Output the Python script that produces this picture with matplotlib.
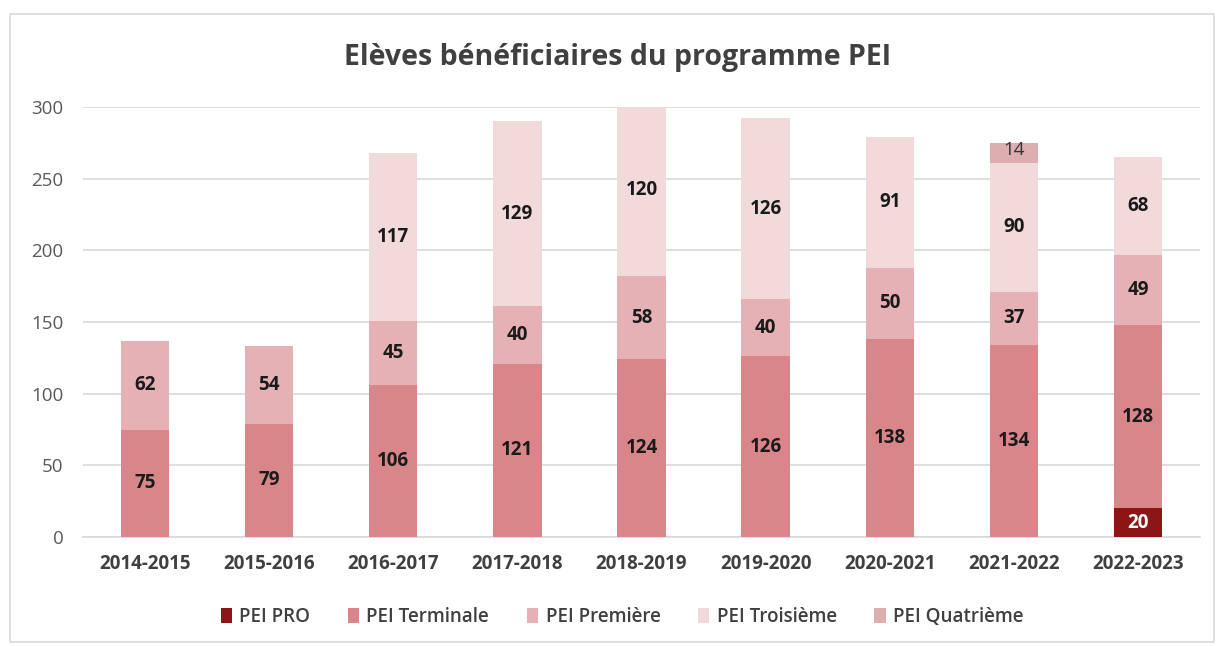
import matplotlib
matplotlib.use("Agg")
import matplotlib.pyplot as plt
import numpy as np
from matplotlib.patches import Rectangle

plt.rcParams['font.family'] = ['Open Sans', 'DejaVu Sans']

categories = ["2014-2015", "2015-2016", "2016-2017", "2017-2018", "2018-2019",
              "2019-2020", "2020-2021", "2021-2022", "2022-2023"]
series_names = ["PEI PRO", "PEI Terminale", "PEI Première", "PEI Troisième", "PEI Quatrième"]
pei_pro = [0, 0, 0, 0, 0, 0, 0, 0, 20]
pei_terminale = [75, 79, 106, 121, 124, 126, 138, 134, 128]
pei_premiere = [62, 54, 45, 40, 58, 40, 50, 37, 49]
pei_troisieme = [0, 0, 117, 129, 120, 126, 91, 90, 68]
pei_quatrieme = [0, 0, 0, 0, 0, 0, 0, 14, 0]
yticks = [0, 50, 100, 150, 200, 250, 300]

colors = ["#8c1515", "#d9868b", "#e5b1b4", "#f2dadb", "#dcaeb0"]
label_colors = ["white", "#1a1a1a", "#1a1a1a", "#1a1a1a", "#333333"]
label_weights = ["bold", "bold", "bold", "bold", "normal"]

fig = plt.figure(figsize=(12.16, 6.46), dpi=100)
fig.patches.append(Rectangle((10/1216, 4/646), 1204/1216, 628/646, transform=fig.transFigure,
                             fill=False, edgecolor="#d9d9d9", linewidth=1.2))
ax = fig.add_axes([83/1216, 1 - 537/646, 1117/1216, 430/646])

x = np.arange(len(categories))
data = [pei_pro, pei_terminale, pei_premiere, pei_troisieme, pei_quatrieme]
bottom = np.zeros(len(categories))
handles = []
for i, (name, vals) in enumerate(zip(series_names, data)):
    vals = np.array(vals, dtype=float)
    bars = ax.bar(x, vals, 0.39, bottom=bottom, color=colors[i], label=name, zorder=3)
    handles.append(bars)
    for j, v in enumerate(vals):
        if v > 0:
            yc = bottom[j] + v / 2
            if i == 4:
                yc = bottom[j] + v / 2 + 2
            ax.text(x[j], yc if yc < 300 else 292, f"{int(v)}", ha="center", va="center",
                    fontsize=13.5, color=label_colors[i], fontweight=label_weights[i], zorder=4)
    bottom += vals

ax.set_ylim(0, 300)
ax.set_xlim(-0.5, len(categories) - 0.5)
ax.set_yticks(yticks)
ax.set_yticklabels([str(t) for t in yticks], fontsize=13.5, color="#595959")
ax.set_xticks(x)
ax.set_xticklabels(categories, fontsize=13.5, fontweight="bold", color="#404040")
ax.tick_params(axis="both", length=0)
ax.tick_params(axis="y", pad=14)
ax.tick_params(axis="x", pad=12)
ax.yaxis.grid(True, color="#d9d9d9", linewidth=1.2, zorder=0)
ax.set_axisbelow(True)
for s in ["top", "right", "left"]:
    ax.spines[s].set_visible(False)
ax.spines["bottom"].set_color("#d9d9d9")
ax.spines["bottom"].set_linewidth(1.2)

fig.text(618/1216, 1 - 58/646, "Elèves bénéficiaires du programme PEI", ha="center", va="center",
         fontsize=20.5, fontweight="bold", color="#404040")

leg = fig.legend(handles=handles, labels=series_names, loc="center", bbox_to_anchor=(622/1216, 1 - 617/646),
                 ncol=5, frameon=False, fontsize=13.5, handlelength=0.6, handleheight=0.9,
                 columnspacing=2.0, handletextpad=0.4)
for t in leg.get_texts():
    t.set_color("#404040")
    t.set_fontweight("semibold")

fig.savefig("out.png", dpi=100)
